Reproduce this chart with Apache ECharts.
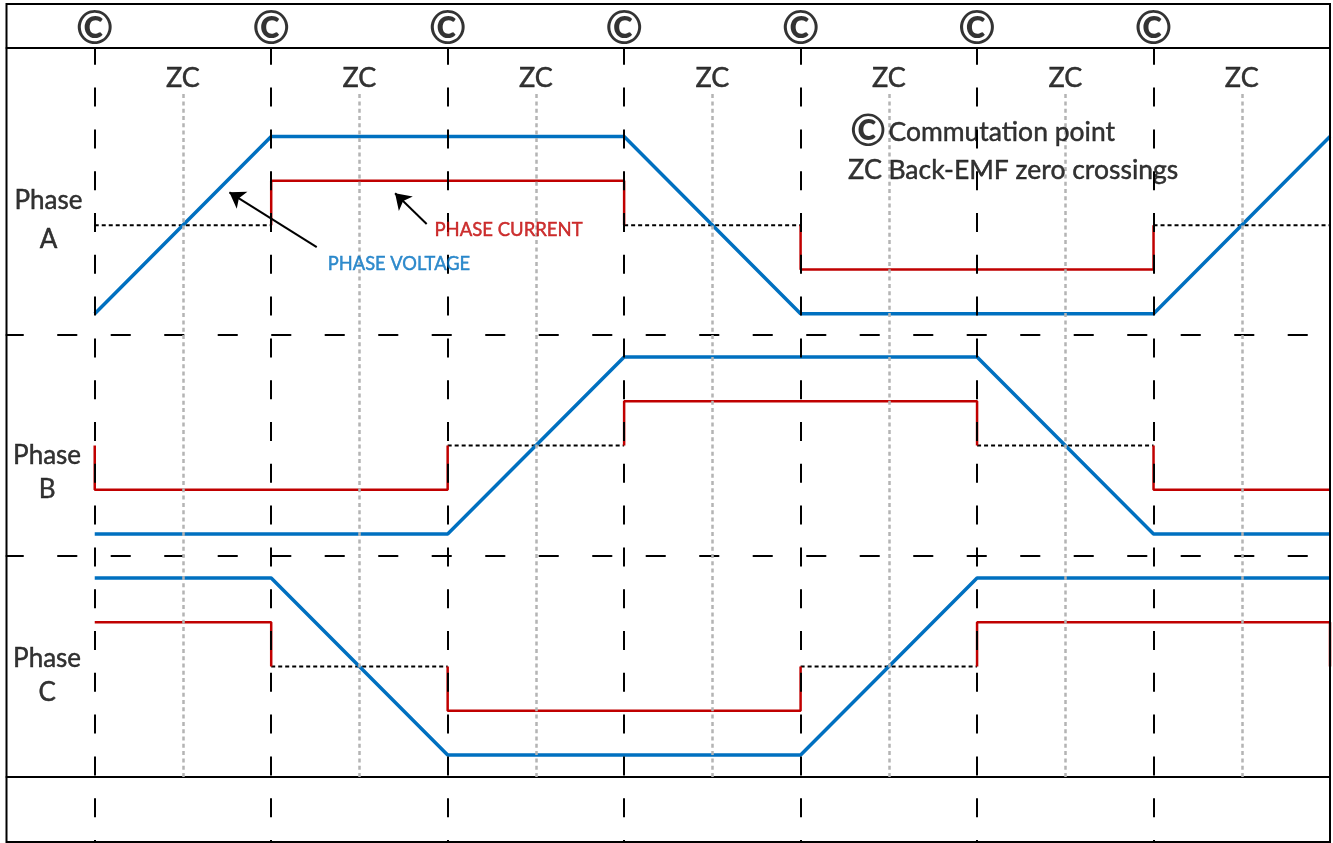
<!DOCTYPE html>
<html><head><meta charset="utf-8">
<script src="https://cdn.jsdelivr.net/npm/echarts@6/dist/echarts.min.js"></script>
<style>html,body{margin:0;padding:0;background:#fff}#c{width:1333px;height:843px}</style>
</head><body><div id="c"></div>
<script>
// ---------- data ----------
const commutationPoints = [0, 1, 2, 3, 4, 5, 6];
const zcPoints = [0.5, 1.5, 2.5, 3.5, 4.5, 5.5, 6.5];
const boundaries = [0, 1, 2, 3, 4, 5, 6, 7];
const voltageA = [-1, 1, 1, 1, -1, -1, -1, 1];
const voltageB = [-1, -1, -1, 1, 1, 1, -1, -1];
const voltageC = [1, 1, -1, -1, -1, 1, 1, 1];
const currentA = [0, 0.5, 0.5, 0, -0.5, -0.5, 0];
const currentB = [-0.5, -0.5, 0, 0.5, 0.5, 0, -0.5];
const currentC = [0.5, 0, -0.5, -0.5, 0, 0.5, 0.5];
const sectorPeriod = 6;
const phaseNames = ['A', 'B', 'C'];
const commutationSymbol = '©';
const zcLabel = 'ZC';
const legendSymbols = ['©', 'ZC'];
const legendTexts = ['Commutation point', 'Back-EMF zero crossings'];
const annotationTexts = ['PHASE VOLTAGE', 'PHASE CURRENT'];

// ---------- layout / style ----------
const FONT = 'Lato, "Open Sans", sans-serif';
const BLUE = '#0070C0', RED = '#C00000';
const L = 6.5, W = 1323.5;
const XMIN = -0.5, XMAX = 7;
const gridBoxes = [
  [4, 838],   // 0 frame
  [4, 44],    // 1 top strip
  [48, 287],  // 2 phase A
  [335, 221], // 3 phase B
  [556, 221], // 4 phase C
  [777, 65],  // 5 bottom strip
  [48, 794],  // 6 commutation lines
  [92, 685]   // 7 zc lines
];
const yRanges = [[0,1],[0,1],[-1.24,2.0],[-1.25,1.25],[-1.25,1.25],[0,1],[0,1],[0,1]];
const phaseAxis = [2, 3, 4];
const phaseLabelPos = [[-0.262, 0.053], [-0.27, -0.311], [-0.27, -0.107]];
const phaseLabelLine = [39, 34, 34];

const grid = gridBoxes.map((b, i) => ({
  left: L, width: W, top: b[0], height: b[1],
  show: i === 0, borderColor: '#000', borderWidth: 2, backgroundColor: 'transparent', z: 10
}));
function sepAxis(pos, type, offset) {
  return { show: true, position: pos, axisLine: { show: true, onZero: false, lineStyle: { color: '#000', width: 2, type: type, dashOffset: offset || 0 } },
    axisTick: { show: false }, axisLabel: { show: false }, splitLine: { show: false } };
}
const xAxis = gridBoxes.map((b, i) => {
  let base = { type: 'value', gridIndex: i, min: XMIN, max: XMAX, show: false, splitLine: { show: false } };
  if (i === 1) Object.assign(base, sepAxis('bottom', 'solid'));
  if (i === 3 || i === 4) Object.assign(base, sepAxis('top', [18.5, 35], 2));
  if (i === 5) Object.assign(base, sepAxis('top', 'solid'));
  return base;
});
const yAxis = yRanges.map((r, i) => ({ type: 'value', gridIndex: i, min: r[0], max: r[1], show: false, splitLine: { show: false } }));

const series = [];
function textSeries(axis, pts, fmt, opts) {
  const color = (opts && opts.color) || '#000';
  series.push({
    type: 'scatter', xAxisIndex: axis, yAxisIndex: axis, symbolSize: 1, itemStyle: { color: 'rgba(0,0,0,0)' },
    silent: true, z: 8, data: pts,
    label: Object.assign({ show: true, position: 'inside', formatter: fmt, color: color, fontFamily: FONT,
      textBorderColor: color, textBorderWidth: 0.45 }, opts)
  });
}

// voltage + current per phase
const voltages = [voltageA, voltageB, voltageC];
const currents = [currentA, currentB, currentC];
phaseAxis.forEach((ax, p) => {
  series.push({ type: 'line', xAxisIndex: ax, yAxisIndex: ax, symbol: 'none', z: 3,
    lineStyle: { color: BLUE, width: 3.5 }, data: boundaries.map((x, i) => [x, voltages[p][i]]) });
  const cur = currents[p];
  const n = cur.length;
  const get = s => cur[((s % sectorPeriod) + sectorPeriod) % sectorPeriod];
  let s = 0;
  while (s < n) {
    let e = s;
    while (e + 1 < n && cur[e + 1] === cur[s]) e++;
    const v = cur[s];
    const x0 = boundaries[s], x1 = boundaries[e + 1];
    if (v === 0) {
      series.push({ type: 'line', xAxisIndex: ax, yAxisIndex: ax, symbol: 'none', z: 2,
        lineStyle: { color: '#000', width: 2, type: [4, 3] }, data: [[x0, 0], [x1, 0]] });
    } else {
      const pts = [];
      if (get(s - 1) === 0) pts.push([x0, 0]);
      pts.push([x0, v], [x1, v]);
      if (get(e + 1) === 0) pts.push([x1, 0]);
      series.push({ type: 'line', xAxisIndex: ax, yAxisIndex: ax, symbol: 'none', z: 3,
        lineStyle: { color: RED, width: 2.5 }, data: pts });
    }
    s = e + 1;
  }
  textSeries(ax, [phaseLabelPos[p]], 'Phase\n' + phaseNames[p], { fontSize: 26, lineHeight: phaseLabelLine[p] });
});

// zero crossing dotted guides
series.push({ type: 'line', xAxisIndex: 7, yAxisIndex: 7, data: [], z: 4,
  markLine: { silent: true, symbol: ['none', 'none'], label: { show: false }, animation: false,
    lineStyle: { color: '#b4b4b4', width: 2.5, type: [4, 3.3] },
    data: zcPoints.map(x => ({ xAxis: x })) } });
// commutation dashed guides
series.push({ type: 'line', xAxisIndex: 6, yAxisIndex: 6, data: [], z: 5,
  markLine: { silent: true, symbol: ['none', 'none'], label: { show: false }, animation: false,
    lineStyle: { color: '#000', width: 2, type: [19, 22.8], dashOffset: 17 },
    data: commutationPoints.map(x => ({ xAxis: x })) } });

// top strip commutation symbols
textSeries(1, commutationPoints.map(x => [x, 0.42]), commutationSymbol, { fontSize: 46, fontWeight: 'bold', textBorderWidth: 0 });
// ZC labels
textSeries(2, zcPoints.map(x => [x, 1.662]), zcLabel, { fontSize: 27 });
// legend
textSeries(2, [[4.382, 1.051]], legendSymbols[0], { fontSize: 44, fontWeight: 'bold', textBorderWidth: 0 });
textSeries(2, [[4.365, 0.623]], legendSymbols[1], { fontSize: 27 });
series.push({ type: 'scatter', xAxisIndex: 2, yAxisIndex: 2, symbolSize: 1, itemStyle: { color: 'rgba(0,0,0,0)' }, silent: true, z: 8,
  data: [[4.495, 1.051, legendTexts[0]], [4.495, 0.623, legendTexts[1]]],
  label: { show: true, position: 'right', distance: 0, formatter: p => p.data[2], color: '#000', fontFamily: FONT, fontSize: 26.5,
    textBorderColor: '#000', textBorderWidth: 0.45 } });
// annotations
textSeries(2, [[1.724, -0.438]], annotationTexts[0], { fontSize: 18.3, color: BLUE });
textSeries(2, [[2.345, -0.06]], annotationTexts[1], { fontSize: 18.5, color: RED });
series.push({ type: 'lines', coordinateSystem: 'cartesian2d', xAxisIndex: 2, yAxisIndex: 2, z: 8, silent: true,
  symbol: ['none', 'arrow'], symbolSize: 15,
  lineStyle: { color: '#000', width: 2, opacity: 1, curveness: 0 },
  data: [{ coords: [[1.258, -0.249], [0.763, 0.371]] }, { coords: [[1.881, 0.0135], [1.702, 0.360]] }] });

const chart = echarts.init(document.getElementById('c'), null, { renderer: 'canvas' });
chart.setOption({ animation: false, backgroundColor: '#fff', grid, xAxis, yAxis, series });
</script></body></html>
